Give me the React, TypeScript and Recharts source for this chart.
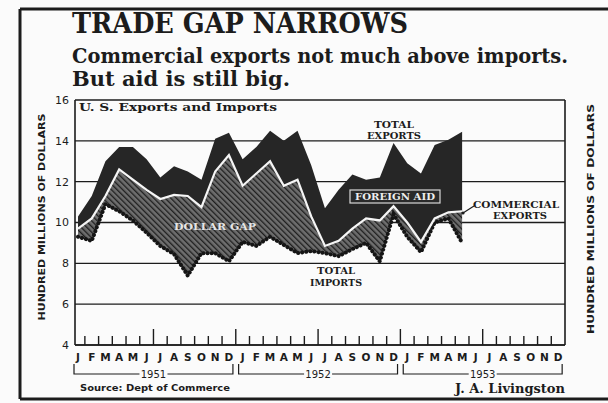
import { ComposedChart, Area, Line, XAxis, YAxis, CartesianGrid } from "recharts";

const months = ["J", "F", "M", "A", "M", "J", "J", "A", "S", "O", "N", "D"];
const years = ["1951", "1952", "1953"];
const yTicks = [4, 6, 8, 10, 12, 14, 16];

// hundred millions of dollars, monthly Jan 1951 .. May 1953
const totalExports = [10.3, 11.3, 13.0, 13.7, 13.7, 13.1, 12.2, 12.75, 12.5, 12.1, 14.1, 14.4, 13.1, 13.7, 14.5, 14.0, 14.5, 12.8, 10.7, 11.6, 12.35, 12.1, 12.2, 13.9, 12.9, 12.4, 13.8, 14.05, 14.45];
const commercialExports = [9.7, 10.2, 11.3, 12.6, 12.1, 11.6, 11.15, 11.35, 11.3, 10.75, 12.5, 13.3, 11.8, 12.4, 13.0, 11.8, 12.1, 10.3, 8.85, 9.1, 9.7, 10.2, 10.1, 10.8, 10.0, 9.05, 10.2, 10.5, 10.55];
const totalImports = [9.3, 9.1, 10.9, 10.55, 10.1, 9.5, 8.85, 8.45, 7.4, 8.5, 8.5, 8.1, 9.05, 8.85, 9.3, 8.9, 8.5, 8.6, 8.5, 8.35, 8.7, 9.0, 8.1, 10.4, 9.3, 8.55, 10.0, 10.2, 9.0];

const data = totalExports.map((te, i) => ({
  i,
  aid: [commercialExports[i], te],
  gap: [totalImports[i], commercialExports[i]],
  ce: commercialExports[i],
  im: totalImports[i],
}));

// month centres plus the boundaries between them
const xTicks: number[] = [];
for (let k = 0; k < 36; k++) {
  xTicks.push(k);
  if (k < 35) xTicks.push(k + 0.5);
}

const INK = "#1c1c1c";
const serif = "'DejaVu Serif', serif";
const sans = "'DejaVu Sans', sans-serif";

function MonthTick(props: any) {
  const { x, y, payload } = props;
  const v = payload.value;
  if (Number.isInteger(v)) {
    return (
      <text x={x} y={y + 16} textAnchor="middle" fontSize={10.5} fontWeight="bold" fontFamily={sans} fill={INK}>
        {months[v % 12]}
      </text>
    );
  }
  const tall = (v + 0.5) % 6 === 0;
  const yearIdx = (v - 5.5) / 12;
  const half = 5.5 * 13.72 + 4;
  return (
    <g>
      <line x1={x} y1={y} x2={x} y2={y - (tall ? 16 : 9)} stroke={INK} strokeWidth={1.4} />
      {Number.isInteger(yearIdx) && yearIdx >= 0 && yearIdx < 3 && (
        <g stroke={INK} strokeWidth={1.2} fill="none">
          <polyline points={`${x - half},${y + 19} ${x - half},${y + 29} ${x - 14},${y + 29}`} />
          <polyline points={`${x + half},${y + 19} ${x + half},${y + 29} ${x + 14},${y + 29}`} />
          <text x={x} y={y + 33} textAnchor="middle" fontSize={10} fontFamily={sans} fill={INK} stroke="none">
            {years[yearIdx]}
          </text>
        </g>
      )}
    </g>
  );
}

export default function App() {
  return (
    <div style={{ position: "absolute", left: 0, top: 0, width: 608, height: 403, background: "#fbfbfb", overflow: "hidden" }}>
      <svg width={0} height={0} style={{ position: "absolute" }}>
        <defs>
          <pattern id="hatch" width={4} height={4} patternUnits="userSpaceOnUse" patternTransform="rotate(-45)">
            <rect width={4} height={4} fill="#6e6e6e" />
            <line x1={0} y1={0} x2={0} y2={4} stroke="#1e1e1e" strokeWidth={2.6} />
          </pattern>
        </defs>
      </svg>
      <ComposedChart
        width={608}
        height={403}
        data={data}
        margin={{ top: 100, right: 23, bottom: 0, left: 55 }}
        style={{ position: "absolute", left: 0, top: 0 }}
      >
        <CartesianGrid yAxisId="left" vertical={false} stroke={INK} strokeWidth={1.4} strokeOpacity={1} />
        <XAxis
          dataKey="i"
          type="number"
          domain={[-0.22, 35.5]}
          ticks={xTicks}
          interval={0}
          allowDataOverflow
          height={58}
          tickSize={0}
          tickMargin={0}
          tickLine={false}
          tick={<MonthTick />}
          axisLine={{ stroke: INK, strokeWidth: 1.6 }}
        />
        <YAxis
          yAxisId="left"
          domain={[4, 16]}
          ticks={yTicks}
          width={20}
          tickSize={0}
          tickMargin={6}
          tickLine={false}
          axisLine={{ stroke: INK, strokeWidth: 1.6 }}
          tick={{ fill: INK, fontSize: 11, fontFamily: sans }}
        />
        <YAxis
          yAxisId="right"
          orientation="right"
          domain={[4, 16]}
          ticks={yTicks}
          width={20}
          tickSize={0}
          tickMargin={6}
          tickLine={false}
          axisLine={{ stroke: INK, strokeWidth: 1.6 }}
          tick={{ fill: INK, fontSize: 11, fontFamily: sans }}
        />
        <Area yAxisId="left" dataKey="gap" type="linear" fill="url(#hatch)" fillOpacity={1} stroke="none" isAnimationActive={false} />
        <Area yAxisId="left" dataKey="aid" type="linear" fill="#262626" fillOpacity={1} stroke="none" isAnimationActive={false} />
        <Line yAxisId="left" dataKey="im" type="linear" stroke="#151515" strokeWidth={4} strokeDasharray="0.1 4" strokeLinecap="round" dot={false} isAnimationActive={false} />
        <Line yAxisId="left" dataKey="ce" type="linear" stroke="#f5f5f5" strokeWidth={2.2} dot={false} isAnimationActive={false} />
      </ComposedChart>

      <svg width={608} height={403} style={{ position: "absolute", left: 0, top: 0, pointerEvents: "none" }}>
        {/* frame */}
        <line x1={20} y1={9} x2={608} y2={9} stroke={INK} strokeWidth={3} />
        <line x1={20} y1={9} x2={20} y2={399} stroke={INK} strokeWidth={3} />
        <line x1={20} y1={399} x2={608} y2={399} stroke={INK} strokeWidth={3} />

        {/* headline */}
        <text x={72} y={33} fontSize={27} fontWeight="bold" fontFamily={serif} fill={INK} textLength={336} lengthAdjust="spacingAndGlyphs">
          TRADE GAP NARROWS
        </text>
        <text x={72} y={63} fontSize={20} fontWeight="bold" fontFamily={serif} fill={INK} textLength={496} lengthAdjust="spacingAndGlyphs">
          Commercial exports not much above imports.
        </text>
        <text x={72} y={86} fontSize={20} fontWeight="bold" fontFamily={serif} fill={INK} textLength={218} lengthAdjust="spacingAndGlyphs">
          But aid is still big.
        </text>

        <text x={79} y={111} fontSize={11} fontWeight="bold" fontFamily={serif} fill={INK} textLength={198} lengthAdjust="spacingAndGlyphs">
          U. S. Exports and Imports
        </text>

        {/* axis titles */}
        <text transform="translate(45,217) rotate(-90)" textAnchor="middle" fontSize={9} fontWeight="bold" fontFamily={sans} fill={INK} textLength={207} lengthAdjust="spacingAndGlyphs">
          HUNDRED MILLIONS OF DOLLARS
        </text>
        <text transform="translate(594,219) rotate(-90)" textAnchor="middle" fontSize={9} fontWeight="bold" fontFamily={sans} fill={INK} textLength={230} lengthAdjust="spacingAndGlyphs">
          HUNDRED MILLIONS OF DOLLARS
        </text>

        {/* series labels */}
        <g fontFamily={serif} fontWeight="bold" fontSize={8.5} fill={INK} textAnchor="middle">
          <text x={394} y={128} textLength={40} lengthAdjust="spacingAndGlyphs">TOTAL</text>
          <text x={394} y={139} textLength={54} lengthAdjust="spacingAndGlyphs">EXPORTS</text>
          <text x={336} y={274} textLength={38} lengthAdjust="spacingAndGlyphs">TOTAL</text>
          <text x={336} y={286} textLength={52} lengthAdjust="spacingAndGlyphs">IMPORTS</text>
          <text x={516} y={208} textLength={86} lengthAdjust="spacingAndGlyphs">COMMERCIAL</text>
          <text x={520} y={219} textLength={54} lengthAdjust="spacingAndGlyphs">EXPORTS</text>
        </g>
        <line x1={463} y1={213} x2={474} y2={206} stroke={INK} strokeWidth={1.2} />
        <circle cx={463} cy={213} r={1.6} fill={INK} />

        <rect x={350} y={190} width={90} height={13} fill="#2a2a2a" stroke="#d8d8d8" strokeWidth={1.2} />
        <text x={395} y={200} textAnchor="middle" fontSize={9} fontWeight="bold" fontFamily={serif} fill="#eeeeee" textLength={80} lengthAdjust="spacingAndGlyphs">
          FOREIGN AID
        </text>
        <text x={215} y={230} textAnchor="middle" fontSize={9} fontWeight="bold" fontFamily={serif} fill="#e6e6e6" textLength={82} lengthAdjust="spacingAndGlyphs">
          DOLLAR GAP
        </text>

        {/* credits */}
        <text x={80} y={391} fontSize={8} fontWeight="bold" fontFamily={sans} fill={INK} textLength={150} lengthAdjust="spacingAndGlyphs">
          Source: Dept of Commerce
        </text>
        <text x={455} y={393} fontSize={12} fontWeight="bold" fontFamily={serif} fill={INK} textLength={110} lengthAdjust="spacingAndGlyphs">
          J. A. Livingston
        </text>
      </svg>
    </div>
  );
}
